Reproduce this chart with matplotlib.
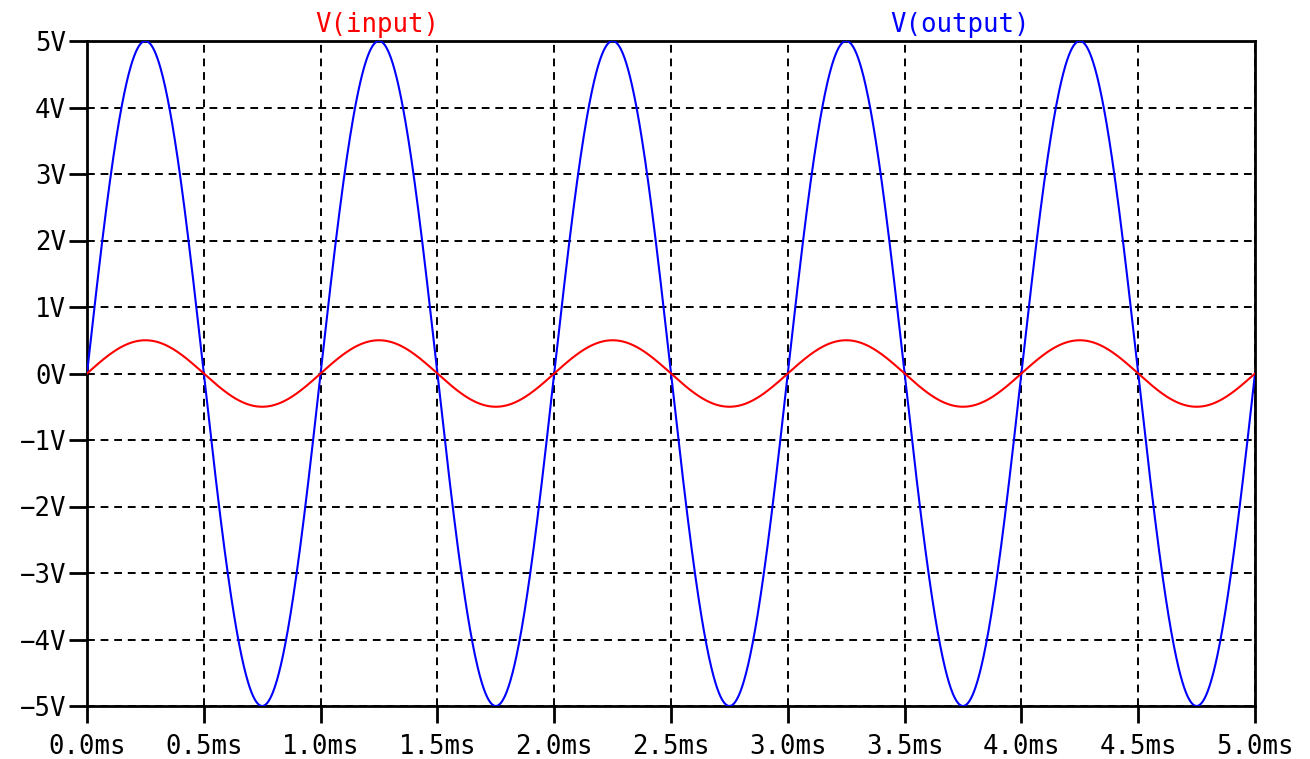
"""Transient simulation plot: input vs amplified output voltage."""

import matplotlib
matplotlib.use("Agg")
import matplotlib.pyplot as plt
import numpy as np

# ── Trace parameters ──────────────────────────────────────────────────────────
stop_time_ms = 5.0
freq_khz = 1.0
vin_amp = 0.5       # V(input) peak, volts
vout_amp = 5.0      # V(output) peak, volts

x_ticks = [0.0, 0.5, 1.0, 1.5, 2.0, 2.5, 3.0, 3.5, 4.0, 4.5, 5.0]
y_ticks = [-5, -4, -3, -2, -1, 0, 1, 2, 3, 4, 5]

FONT = "DejaVu Sans Mono"
FS = 18.5

plt.rcParams.update({
    "font.family": FONT,
    "font.size": FS,
})

t = np.linspace(0, stop_time_ms, 4001)
v_in = vin_amp * np.sin(2 * np.pi * freq_khz * t)
v_out = vout_amp * np.sin(2 * np.pi * freq_khz * t)

fig = plt.figure(figsize=(13.1, 7.59), dpi=100)
ax = fig.add_axes([87 / 1310, 1 - 706 / 759, (1255 - 87) / 1310, (706 - 41) / 759])

ax.plot(t, v_out, color="#0000ff", linewidth=1.5, zorder=3)
ax.plot(t, v_in, color="#ff0000", linewidth=1.5, zorder=3)

ax.set_xlim(0, stop_time_ms)
ax.set_ylim(-5, 5)
ax.set_xticks(x_ticks)
ax.set_xticklabels([f"{v:.1f}ms" for v in x_ticks])
ax.set_yticks(y_ticks)
ax.set_yticklabels([f"{v}V".replace("-", "\u2212") for v in y_ticks])

ax.tick_params(axis="y", direction="out", length=13, width=2, pad=2, labelsize=FS)
ax.tick_params(axis="x", direction="out", length=12, width=2, pad=8, labelsize=FS)
ax.grid(True, color="black", linestyle=(0, (4, 3)), linewidth=1.4)
for s in ax.spines.values():
    s.set_linewidth(2)

# trace names above the plot area
fig.text(377 / 1310, 1 - 25 / 759, "V(input)", color="#ff0000",
         fontsize=FS, ha="center", va="center")
fig.text(960 / 1310, 1 - 25 / 759, "V(output)", color="#0000ff",
         fontsize=FS, ha="center", va="center")

fig.savefig("out.png", dpi=100)
